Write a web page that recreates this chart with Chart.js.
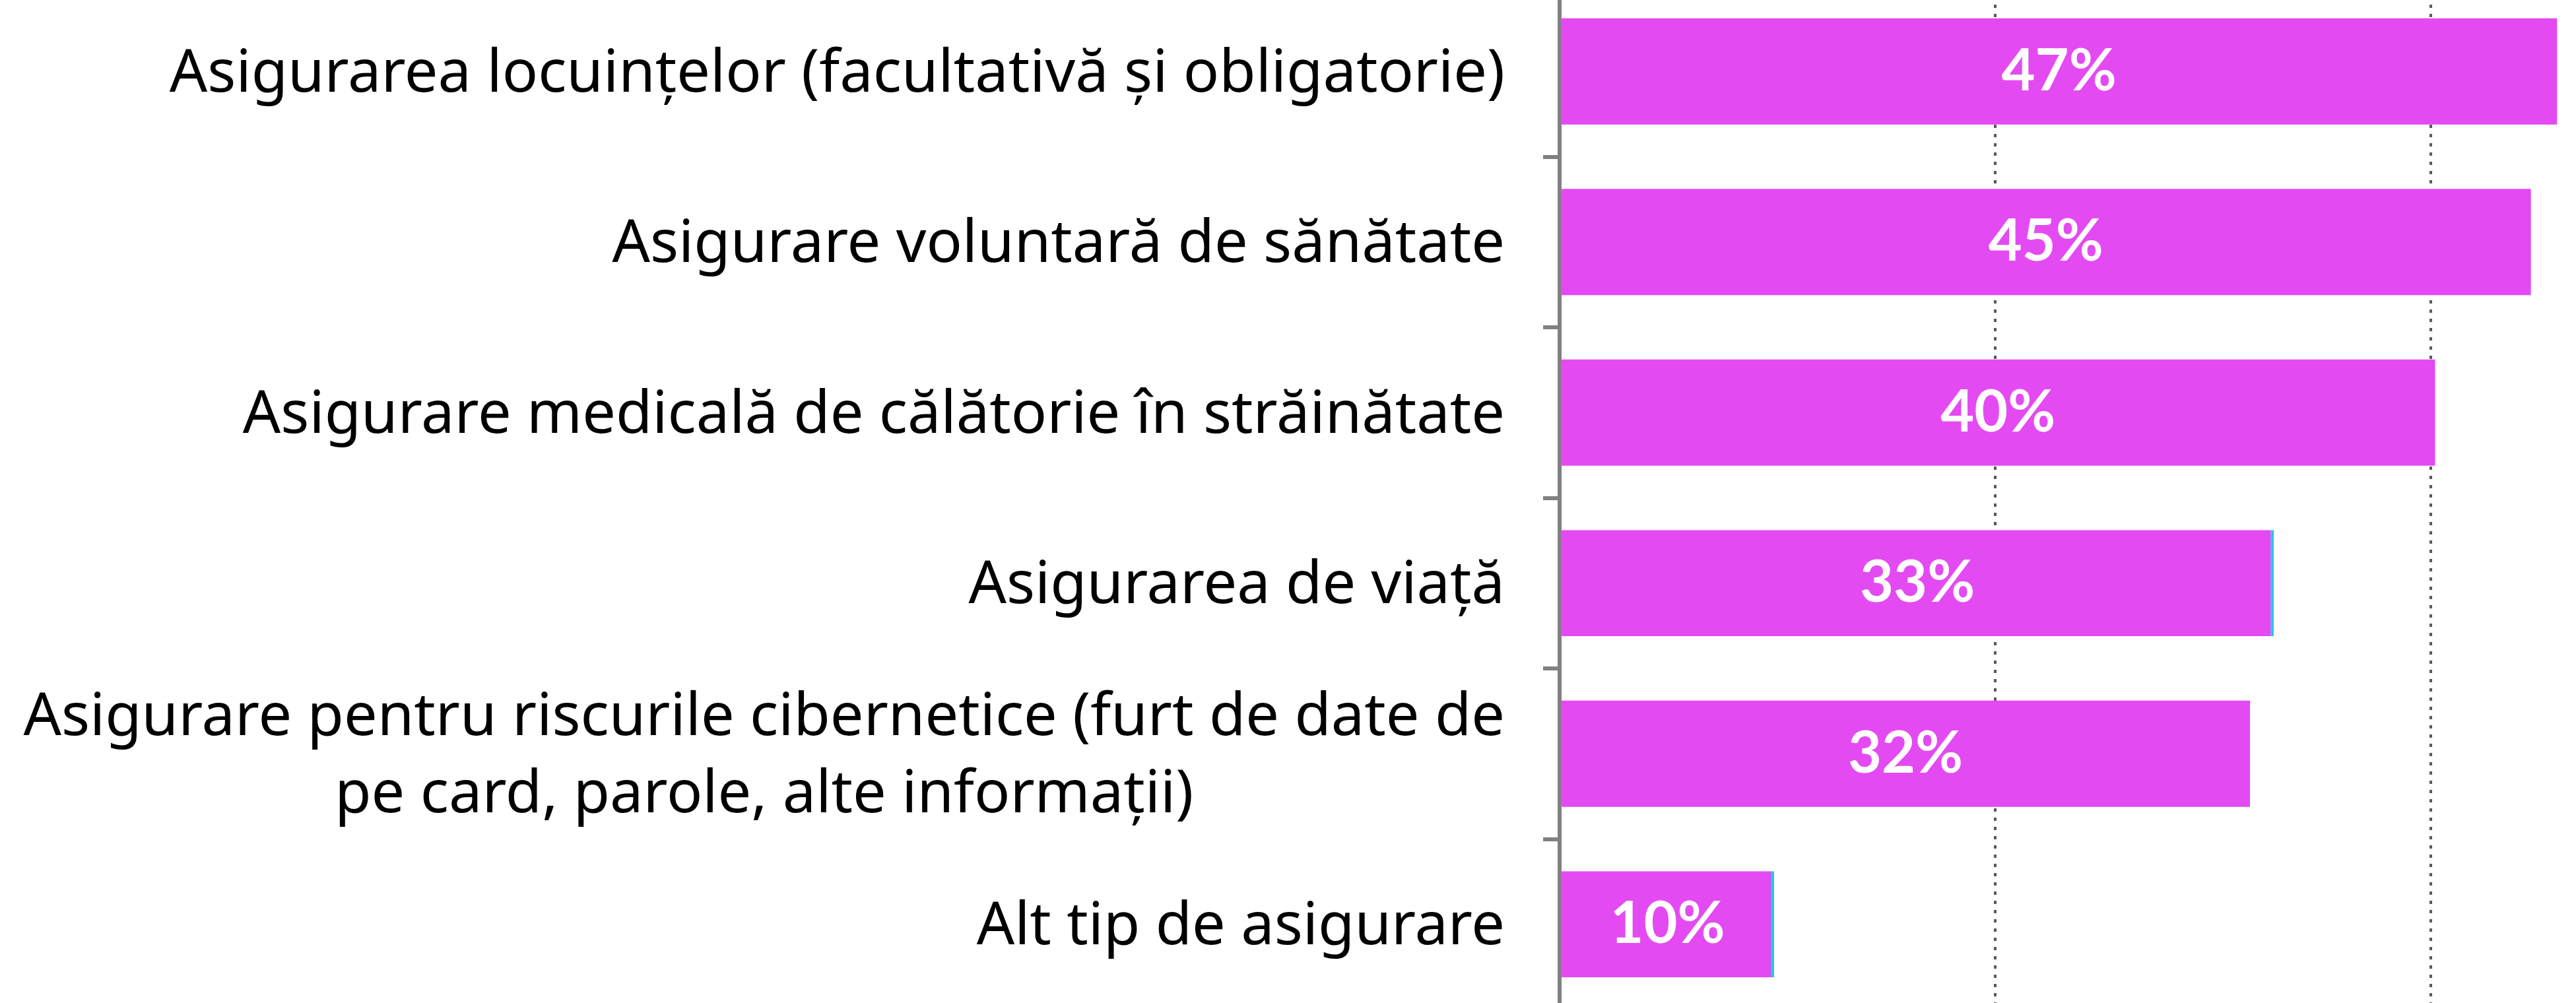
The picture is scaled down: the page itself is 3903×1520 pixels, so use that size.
<!DOCTYPE html>
<html>
<head>
<meta charset="utf-8">
<script src="https://cdn.jsdelivr.net/npm/chart.js@4"></script>
<style>
    html, body { margin: 0; padding: 0; background: #ffffff; overflow: hidden; }
    #wrap { position: absolute; left: 0; top: -21px; width: 3903px; height: 1551px; }
</style>
</head>
<body>
<div id="wrap"><canvas id="chart"></canvas></div>
<script>
// categories, one array of lines each (the 5th one wraps on two lines)
const categories = [
    ["Asigurarea locuințelor (facultativă și obligatorie)"],
    ["Asigurare voluntară de sănătate"],
    ["Asigurare medicală de călătorie în străinătate"],
    ["Asigurarea de viață"],
    ["Asigurare pentru riscurile cibernetice (furt de date de", "pe card, parole, alte informații)"],
    ["Alt tip de asigurare"]
];
// bar lengths (percent)
const shares = [45.8, 44.6, 40.2, 32.8, 31.7, 9.85];
// the labels printed on the bars
const shareLabels = ["47%", "45%", "40%", "33%", "32%", "10%"];
const gridValues = [0, 20, 40];

const BAR_COLOR = "#e44af2";
const AXIS_COLOR = "#808080";
const CATEGORY_FONT = "'Noto Sans', Lato, sans-serif";
const VALUE_FONT = "Lato, 'Open Sans', sans-serif";

const categoryLabels = {
    id: "categoryLabels",
    afterDraw(chart) {
        const { ctx } = chart;
        const y = chart.scales.y;
        ctx.save();
        ctx.font = `90px ${CATEGORY_FONT}`;
        ctx.fillStyle = "#000000";
        ctx.textBaseline = "middle";
        ctx.textAlign = "center";
        const right = y.right - 83;
        categories.forEach((lines, i) => {
            const cy = y.getPixelForValue(i) + 5;
            const w = Math.max(...lines.map(l => ctx.measureText(l).width));
            const cx = right - w / 2;
            lines.forEach((line, j) => {
                ctx.fillText(line, cx, cy + (j - (lines.length - 1) / 2) * 117);
            });
        });
        ctx.restore();
    }
};

const barLabels = {
    id: "barLabels",
    afterDatasetsDraw(chart) {
        const { ctx } = chart;
        const meta = chart.getDatasetMeta(0);
        ctx.save();
        ctx.font = `bold 88px ${VALUE_FONT}`;
        ctx.fillStyle = "#ffffff";
        ctx.textAlign = "center";
        ctx.textBaseline = "middle";
        meta.data.forEach((bar, i) => {
            const { x, y } = bar.getCenterPoint();
            ctx.fillText(shareLabels[i], x, y);
        });
        ctx.restore();
    }
};

// bars 4 and 6 have a thin cyan edge at their end
const cyanEdge = [false, false, false, true, false, true];

new Chart(document.getElementById("chart"), {
    type: "bar",
    data: {
        labels: categories.map(lines => lines.join(" ")),
        datasets: [{
            data: shares,
            backgroundColor: BAR_COLOR,
            borderColor: "#2cc3e6",
            borderWidth: ctx => cyanEdge[ctx.dataIndex] ? { top: 0, bottom: 0, left: 0, right: 5 } : 0,
            borderSkipped: "start",
            categoryPercentage: 0.623,
            barPercentage: 1
        }]
    },
    options: {
        indexAxis: "y",
        responsive: true,
        maintainAspectRatio: false,
        animation: false,
        layout: { padding: 0 },
        plugins: {
            legend: { display: false },
            tooltip: { enabled: false }
        },
        scales: {
            x: {
                min: 0,
                max: 46.67,
                afterBuildTicks: scale => { scale.ticks = gridValues.map(value => ({ value })); },
                afterFit: scale => { scale.height = 0; },
                ticks: { display: false },
                grid: {
                    drawTicks: false,
                    lineWidth: 4,
                    color: ctx => ctx.tick && ctx.tick.value === 0 ? "rgba(0,0,0,0)" : "#5a5a5a"
                },
                border: { display: false, dash: [5, 9] }
            },
            y: {
                afterFit: scale => { scale.width = 2363; },
                ticks: { display: false },
                grid: {
                    offset: true,
                    drawOnChartArea: false,
                    drawTicks: true,
                    tickLength: 25,
                    lineWidth: 6,
                    color: AXIS_COLOR
                },
                border: { display: true, color: AXIS_COLOR, width: 6 }
            }
        }
    },
    plugins: [categoryLabels, barLabels]
});
</script>
</body>
</html>
